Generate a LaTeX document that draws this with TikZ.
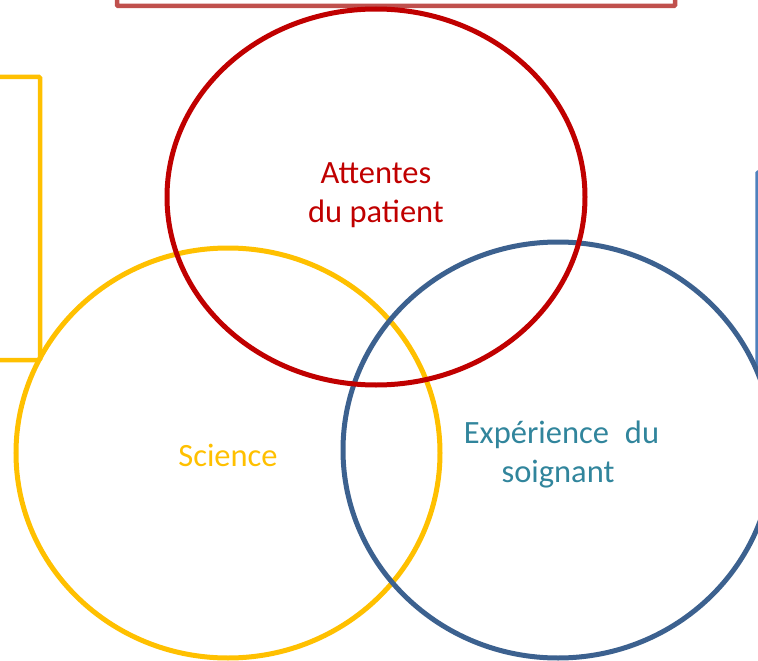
\documentclass[tikz,border=0pt]{standalone}
\usepackage{fontspec}
\setmainfont{Carlito}
\usetikzlibrary{calc}
\definecolor{cred}{HTML}{C00000}
\definecolor{cyellow}{HTML}{FFC000}
\definecolor{cblue}{HTML}{3C618F}
\definecolor{boxred}{HTML}{C0504D}
\definecolor{boxblue}{HTML}{4F81BD}
\definecolor{tealtext}{HTML}{31859C}
\tikzstyle{ring}=[line width=5pt]
\tikzstyle{frame}=[line width=4.5pt, rounded corners=1pt]
\tikzstyle{annot}=[align=center, font=\fontsize{32.5}{39}\selectfont, inner sep=0pt]
\begin{document}
\begin{tikzpicture}[x=1pt, y=-1pt]
  \useasboundingbox (0,0) rectangle (758,661);
  \clip (0,0) rectangle (758,661);

  % boxes behind the rings
  \draw[frame, boxred] (117,-40) rectangle (675,6);
  \draw[frame, cyellow] (-40,77) rectangle (40,360);
  \draw[frame, boxblue, line width=3.2pt] (757,172) rectangle (820,372);

  % rings
  \coordinate (science) at (228,453);
  \coordinate (soignant) at (558,450);
  \coordinate (patient) at (376,197);
  \draw[ring, cyellow] (science) ellipse [x radius=212, y radius=205];
  \draw[ring, cblue] (soignant) ellipse [x radius=215, y radius=208];
  \draw[ring, cred] (patient) ellipse [x radius=209, y radius=188];

  % labels
  \node[annot, text=cred] (lblpatient) at (376,195) {Attentes\\du patient};
  \node[annot, text=cyellow] (lblscience) at (228,455) {Science};
  \node[annot, text=tealtext] (lblsoignant) at (558,455) {\hspace*{7pt}Expérience\hspace{16pt}du\\soignant};
\end{tikzpicture}
\end{document}
